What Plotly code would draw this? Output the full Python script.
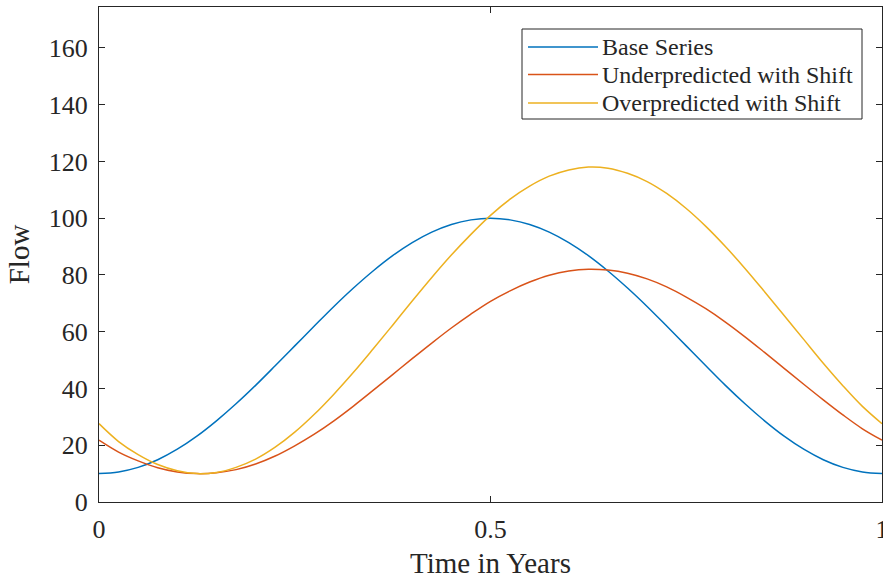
import plotly.graph_objects as go

t_years = [i * 0.025 for i in range(41)]

base_series = [10.0, 10.6, 12.2, 14.9, 18.6, 23.2, 28.6, 34.6, 41.1, 48.0, 55.0,
               62.0, 68.9, 75.4, 81.4, 86.8, 91.4, 95.1, 97.8, 99.4, 100.0,
               99.4, 97.8, 95.1, 91.4, 86.8, 81.4, 75.4, 68.9, 62.0, 55.0,
               48.0, 41.1, 34.6, 28.6, 23.2, 18.6, 14.9, 12.2, 10.6, 10.0]

under_shift = [21.8, 17.6, 14.5, 12.1, 10.6, 10.0, 10.3, 11.4, 13.4, 16.2, 19.8,
               23.9, 28.6, 33.8, 39.3, 44.9, 50.5, 56.0, 61.3, 66.2, 70.7,
               74.4, 77.5, 79.9, 81.4, 82.0, 81.7, 80.6, 78.6, 75.8, 72.2,
               68.1, 63.4, 58.2, 52.7, 47.1, 41.5, 36.0, 30.7, 25.8, 21.8]

over_shift = [27.6, 21.3, 16.7, 13.2, 11.0, 10.0, 10.4, 12.2, 15.1, 19.3, 24.6,
              30.9, 38.0, 45.7, 53.9, 62.3, 70.8, 79.1, 87.0, 94.3, 101.0,
              106.7, 111.3, 114.8, 117.0, 118.0, 117.6, 115.8, 112.9, 108.7, 103.4,
              97.1, 90.0, 82.3, 74.1, 65.7, 57.3, 48.9, 41.0, 33.7, 27.6]

series_names = ["Base Series", "Underpredicted with Shift", "Overpredicted with Shift"]
series_colors = ["#0072BD", "#D95319", "#EDB120"]
x_ticks = [0, 0.5, 1]
x_tick_labels = ["0", "0.5", "1"]
y_ticks = [0, 20, 40, 60, 80, 100, 120, 140, 160]

W, H = 883, 582
ML, MR, MT, MB = 99, 1, 7, 80
PW, PH = W - ML - MR, H - MT - MB


def px_x(p):
    return (p - ML) / PW


def px_y(p):
    return (H - MB - p) / PH


font_fam = "Liberation Serif, Times New Roman, serif"
axis_col = "#262626"

fig = go.Figure()
for name, vals, col in zip(series_names, [base_series, under_shift, over_shift], series_colors):
    fig.add_trace(go.Scatter(x=t_years, y=vals, mode="lines", name=name, showlegend=False,
                             line=dict(color=col, width=1.5, shape="spline", smoothing=1.0)))

# MATLAB-style legend box drawn in paper coordinates
shapes = [dict(type="rect", xref="paper", yref="paper",
               x0=px_x(522), x1=px_x(862), y0=px_y(119), y1=px_y(29),
               line=dict(color=axis_col, width=1), fillcolor="white", layer="above")]
annotations = []
row_y = [47, 74.5, 103]
for name, col, ry in zip(series_names, series_colors, row_y):
    shapes.append(dict(type="line", xref="paper", yref="paper",
                       x0=px_x(528), x1=px_x(598), y0=px_y(ry), y1=px_y(ry),
                       line=dict(color=col, width=1.5), layer="above"))
    annotations.append(dict(xref="paper", yref="paper", x=px_x(601), y=px_y(ry),
                            xanchor="left", yanchor="middle", showarrow=False, text=name,
                            borderpad=0,
                            font=dict(family=font_fam, size=24, color=axis_col)))

fig.update_layout(
    width=W, height=H,
    margin=dict(l=ML, r=MR, t=MT, b=MB, autoexpand=False),
    paper_bgcolor="white", plot_bgcolor="white",
    font=dict(family=font_fam, size=26, color=axis_col),
    showlegend=False,
    shapes=shapes,
    annotations=annotations,
    xaxis=dict(range=[0, 1], tickvals=x_ticks, ticktext=x_tick_labels,
               showgrid=False, zeroline=False, showline=True, linecolor=axis_col,
               linewidth=1, mirror="ticks", ticks="inside", ticklen=6, tickcolor=axis_col,
               tickfont=dict(size=26), automargin=False, ticklabelstandoff=4,
               ticklabeloverflow="allow",
               title=dict(text="Time in Years", font=dict(size=29), standoff=9)),
    yaxis=dict(range=[0, 174.4], tickvals=y_ticks,
               showgrid=False, zeroline=False, showline=True, linecolor=axis_col,
               linewidth=1, mirror="ticks", ticks="inside", ticklen=6, tickcolor=axis_col,
               tickfont=dict(size=26), automargin=False, ticklabelstandoff=5,
               title=dict(text="Flow", font=dict(size=29), standoff=10)),
)

fig.write_html("out.html", config={"displayModeBar": False},
               post_script="document.body.style.margin='0';")
